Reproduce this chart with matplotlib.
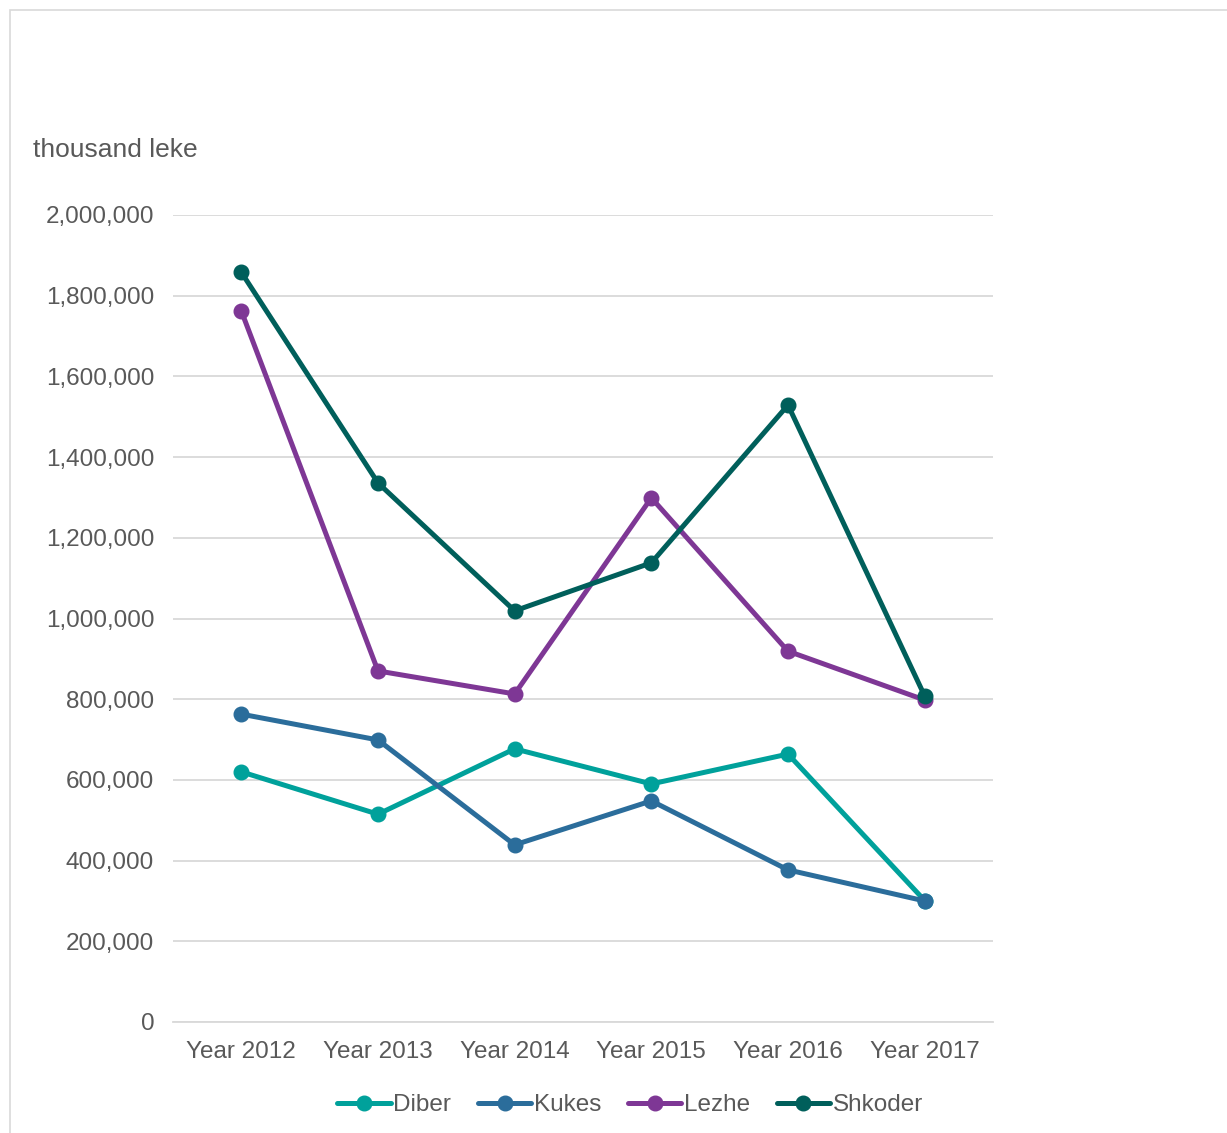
import matplotlib.pyplot as plt
from matplotlib.patches import Rectangle
from matplotlib.ticker import FuncFormatter

plt.rcParams['font.family'] = ['Liberation Sans', 'DejaVu Sans']

years = ['Year 2012', 'Year 2013', 'Year 2014', 'Year 2015', 'Year 2016', 'Year 2017']
diber = [620000, 515000, 677000, 590000, 664000, 301000]
kukes = [763000, 699000, 439000, 548000, 377000, 300000]
lezhe = [1762000, 870000, 813000, 1299000, 919000, 798000]
shkoder = [1858000, 1336000, 1019000, 1138000, 1529000, 808000]

series = [('Diber', diber, '#00A19B'),
          ('Kukes', kukes, '#2B6D9B'),
          ('Lezhe', lezhe, '#7E3795'),
          ('Shkoder', shkoder, '#005F5B')]

TEXT = '#595959'
GRID = '#D9D9D9'

fig = plt.figure(figsize=(12.27, 11.33), dpi=100)
ax = fig.add_axes([173/1227, 1 - 1022/1133, 820/1227, 807/1133])

x = range(len(years))
for name, vals, col in series:
    ax.plot(x, vals, '-o', color=col, lw=3.6, markersize=10.5, label=name,
            solid_capstyle='round', zorder=3)

ax.set_xlim(-0.5, len(years) - 0.5)
ax.set_ylim(0, 2000000)
ax.set_yticks(range(0, 2000001, 200000))
ax.yaxis.set_major_formatter(FuncFormatter(lambda v, p: f'{int(v):,}'))
ax.set_xticks(list(x))
ax.set_xticklabels(years)
ax.grid(axis='y', color=GRID, lw=1.3)
ax.set_axisbelow(True)
for s in ['top', 'right', 'left']:
    ax.spines[s].set_visible(False)
ax.spines['bottom'].set_color(GRID)
ax.spines['bottom'].set_linewidth(1.3)
ax.tick_params(axis='both', length=0, labelsize=17.5, labelcolor=TEXT)
ax.tick_params(axis='y', pad=13.5)
ax.tick_params(axis='x', pad=13.5)

fig.text(33/1227, 1 - 150/1133, 'thousand leke', fontsize=19, color=TEXT,
         va='center', ha='left')

leg = fig.legend(loc='center', bbox_to_anchor=(630/1227, 1 - 1105/1133), ncol=4,
                 frameon=False, fontsize=17.5, handlelength=2.2, handletextpad=0.1,
                 columnspacing=1.1)
for t in leg.get_texts():
    t.set_color(TEXT)

fig.add_artist(Rectangle((10/1227, -0.1), 1.2, 1.1 - 10/1133, transform=fig.transFigure,
                         fill=False, edgecolor=GRID, lw=1.2))

plt.savefig('out.png', dpi=100)
